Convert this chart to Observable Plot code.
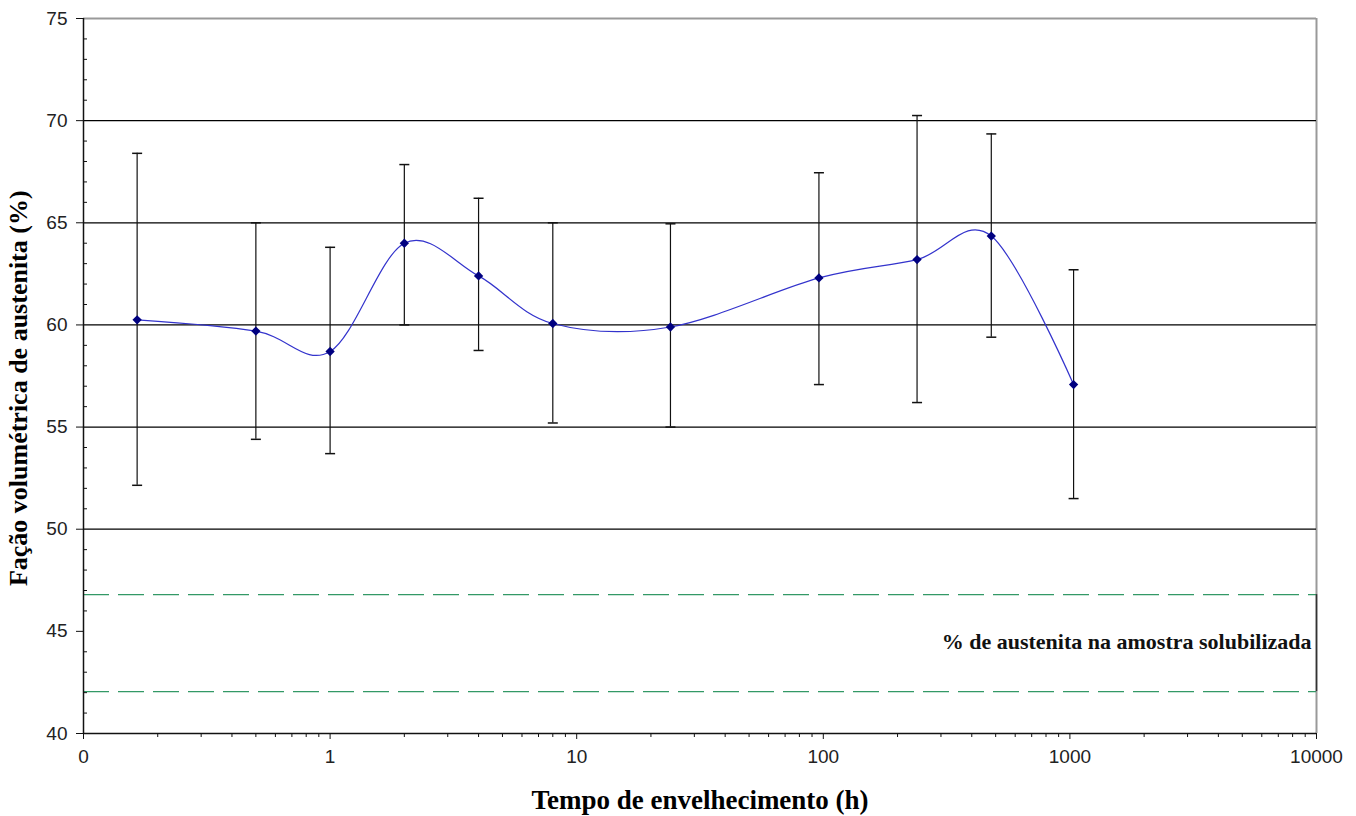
<!DOCTYPE html>
<html>
<head>
<meta charset="utf-8">
<script src="https://cdn.jsdelivr.net/npm/d3@7"></script>
<script src="https://cdn.jsdelivr.net/npm/@observablehq/plot@0.6"></script>
<style>
  html, body { margin: 0; padding: 0; background: #fff; }
</style>
</head>
<body>
<div id="chart"></div>
<script>
// ---- data ----
const hours     = [0.165, 0.5, 1, 2, 4, 8, 24, 96, 240, 480, 1035];
const austenite = [60.25, 59.7, 58.7, 64.0, 62.4, 60.07, 59.9, 62.3, 63.2, 64.35, 57.08];
const errLow    = [52.15, 54.4, 53.7, 60.0, 58.75, 55.2, 55.0, 57.08, 56.2, 59.4, 51.5];
const errHigh   = [68.4, 65.0, 63.8, 67.85, 66.2, 65.0, 64.95, 67.45, 70.25, 69.35, 62.7];

const solubilizedBand = [46.8, 42.05];     // dashed reference lines
const solubilizedTime = 10000;
const solubilizedLabel = "% de austenita na amostra solubilizada";

const xMajorTicks = [0.1, 1, 10, 100, 1000, 10000];
const xTickLabels = ["0", "1", "10", "100", "1000", "10000"];
const yMajorTicks = [40, 45, 50, 55, 60, 65, 70, 75];
const gridValues  = [50, 55, 60, 65, 70];

const xLabel = "Tempo de envelhecimento (h)";
const yLabel = "Fação volumétrica de austenita (%)";

// ---- derived ----
const data = hours.map((h, i) => ({h, v: austenite[i], lo: errLow[i], hi: errHigh[i]}));
const xMinorTicks = [];
for (let e = -1; e < 4; e++) for (let m = 2; m <= 9; m++) xMinorTicks.push(m * Math.pow(10, e));
const yMinorTicks = d3.range(40, 76, 1).filter(d => d % 5 !== 0);

const capSymbol = {
  draw(ctx, size) {
    const w = Math.sqrt(size / Math.PI);
    ctx.moveTo(-w, 0);
    ctx.lineTo(w, 0);
  }
};

const serifBold = {fontFamily: "'Liberation Serif', 'Times New Roman', serif", fontWeight: "bold"};
const sans = "'Liberation Sans', Arial, sans-serif";

const chart = Plot.plot({
  width: 1356,
  height: 816,
  marginLeft: 83,
  marginRight: 40,
  marginTop: 18,
  marginBottom: 83,
  style: {fontFamily: sans, fontSize: "19px", color: "#222", background: "#fff"},
  x: {type: "log", domain: [0.1, 10000]},
  y: {domain: [40, 75]},
  marks: [
    // frame top/right (gray)
    Plot.ruleY([75], {stroke: "#999", strokeWidth: 2}),
    Plot.ruleX([10000], {stroke: "#999", strokeWidth: 2}),
    // gridlines
    Plot.ruleY(gridValues, {stroke: "#000", strokeWidth: 1.2}),
    // dashed reference lines
    Plot.ruleY(solubilizedBand, {stroke: "#339966", strokeWidth: 1.2, strokeDasharray: "26,9"}),
    Plot.ruleX([solubilizedTime], {y1: solubilizedBand[1], y2: solubilizedBand[0], stroke: "#333", strokeWidth: 1.5}),
    Plot.text([solubilizedLabel], {
      x: solubilizedTime, y: 44.5, text: d => d,
      textAnchor: "end", dx: -5, fontSize: 22, fill: "#111", ...serifBold
    }),
    // error bars
    Plot.ruleX(data, {x: "h", y1: "lo", y2: "hi", stroke: "#111", strokeWidth: 1.2}),
    Plot.dot(data, {x: "h", y: "lo", symbol: capSymbol, r: 5, stroke: "#111", strokeWidth: 1.5, fill: "none"}),
    Plot.dot(data, {x: "h", y: "hi", symbol: capSymbol, r: 5, stroke: "#111", strokeWidth: 1.5, fill: "none"}),
    // smoothed line
    Plot.line(data, {x: "h", y: "v", stroke: "#3333cc", strokeWidth: 1.2, curve: d3.curveCatmullRom.alpha(0)}),
    Plot.dot(data, {x: "h", y: "v", symbol: "diamond2", r: 4.2, fill: "#000080", stroke: "none"}),
    // axes
    Plot.axisY({ticks: yMajorTicks, tickSize: 7, tickPadding: 9, tickFormat: d => String(d), label: null,
      stroke: "#111", fill: "#222", fontSize: 19, fontFamily: sans}),
    Plot.axisY({ticks: yMinorTicks, tickSize: -4, tickFormat: () => "", label: null, stroke: "#111"}),
    Plot.axisX({ticks: xMajorTicks, tickSize: 6, tickPadding: 10,
      tickFormat: d => xTickLabels[xMajorTicks.indexOf(d)], label: null,
      stroke: "#111", fill: "#222", fontSize: 19, fontFamily: sans}),
    Plot.axisX({ticks: xMinorTicks, tickSize: 4, tickFormat: () => "", label: null, stroke: "#111"}),
    Plot.ruleX([0.1], {stroke: "#111", strokeWidth: 1.5}),
    Plot.ruleY([40], {stroke: "#111", strokeWidth: 1.5}),
    // axis titles
    Plot.text([yLabel], {x: 0.1, y: 56.9, text: d => d, rotate: -90, dx: -65, fontSize: 26, fill: "#000", ...serifBold}),
    Plot.text([xLabel], {frameAnchor: "bottom", text: d => d, dy: 75, fontSize: 27, fill: "#000", ...serifBold})
  ]
});

document.getElementById("chart").appendChild(chart);
</script>
</body>
</html>
